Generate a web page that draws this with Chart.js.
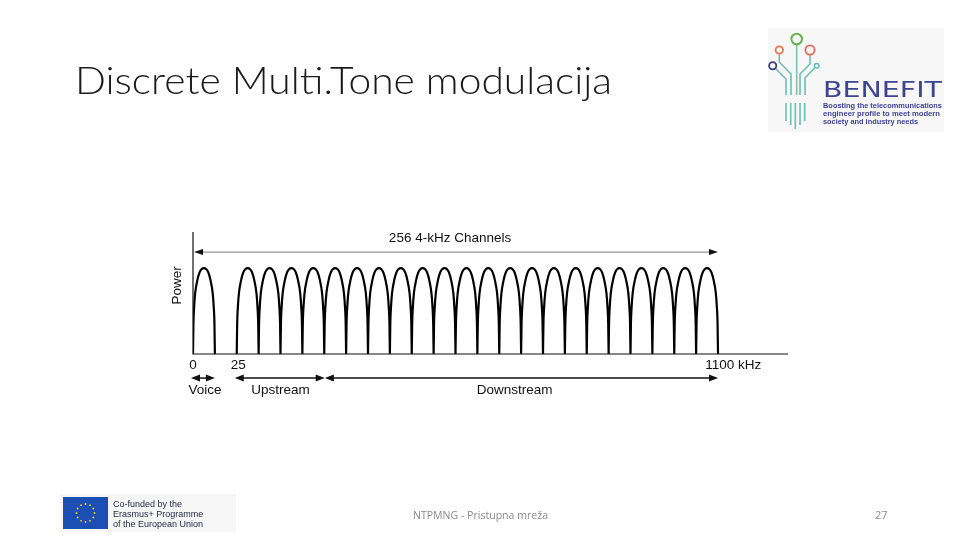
<!DOCTYPE html>
<html>
<head>
<meta charset="utf-8">
<script src="https://cdn.jsdelivr.net/npm/chart.js@4.4.1/dist/chart.umd.min.js"></script>
<style>
  html,body{margin:0;padding:0;background:#fff;}
  #wrap{position:relative;width:960px;height:540px;overflow:hidden;}
  #c{position:absolute;left:0;top:0;}
  #deco{position:absolute;left:0;top:0;pointer-events:none;}
</style>
</head>
<body>
<div id="wrap">
<canvas id="c" width="960" height="540"></canvas>
<svg id="deco" width="960" height="540" xmlns="http://www.w3.org/2000/svg">
  <text x="75" y="94" font-family="Lato, 'Open Sans', sans-serif" font-weight="300" font-size="38" fill="#1a1a1a" textLength="537" lengthAdjust="spacingAndGlyphs">Discrete Multi.Tone modulacija</text>
  <!-- BENEFIT logo -->
  <rect x="768" y="28" width="176" height="104" fill="#f7f7f7"/>
  <g fill="none" stroke-width="1.6">
    <path d="M796.7 44.5 V95" stroke="#7bc4a6"/>
    <path d="M779.3 53.7 V62 L791 74 V95" stroke="#6cc0b0"/>
    <path d="M810 54.7 V64 L800 74 V95" stroke="#6cc0b0"/>
    <path d="M775.5 68.5 L786 79 V95" stroke="#6cc0b0"/>
    <path d="M815 67.5 L805 78 V95" stroke="#6cc0b0"/>
    <circle cx="796.7" cy="39" r="5.3" stroke="#6aaf4f" stroke-width="2"/>
    <circle cx="779.3" cy="50" r="3.7" stroke="#e07a4f" stroke-width="1.8"/>
    <circle cx="810" cy="50" r="4.6" stroke="#e06a58" stroke-width="1.8"/>
    <circle cx="772.7" cy="65.7" r="3.6" stroke="#3b3f7f" stroke-width="1.8"/>
    <circle cx="816.7" cy="65.7" r="2.3" stroke="#5bbfb5" stroke-width="1.5"/>
    <path d="M786 103 V121 M790.7 103 V125 M795.3 103 V129 M800 103 V125 M804.7 103 V121" stroke="#6cc0b0"/>
  </g>
  <text x="823" y="97" font-family="'DejaVu Sans', sans-serif" font-weight="normal" font-size="22" fill="#3d4494" textLength="119" lengthAdjust="spacingAndGlyphs">BENEFIT</text>
  <g font-family="'Liberation Sans', Arial, sans-serif" font-weight="bold" font-size="7" fill="#3d4494">
    <text x="823" y="108" textLength="119" lengthAdjust="spacingAndGlyphs">Boosting the telecommunications</text>
    <text x="823" y="116" textLength="117" lengthAdjust="spacingAndGlyphs">engineer profile to meet modern</text>
    <text x="823" y="124" textLength="95" lengthAdjust="spacingAndGlyphs">society and industry needs</text>
  </g>
  <!-- EU co-funded block -->
  <rect x="60" y="494" width="176" height="38" fill="#f6f6f6"/>
  <rect x="63" y="497" width="45" height="32" fill="#1b4fb4"/>
  <g fill="#f5d90a">
    <circle cx="85.5" cy="504" r="0.9"/><circle cx="90" cy="505.2" r="0.9"/><circle cx="93.3" cy="508.5" r="0.9"/>
    <circle cx="94.5" cy="513" r="0.9"/><circle cx="93.3" cy="517.5" r="0.9"/><circle cx="90" cy="520.8" r="0.9"/>
    <circle cx="85.5" cy="522" r="0.9"/><circle cx="81" cy="520.8" r="0.9"/><circle cx="77.7" cy="517.5" r="0.9"/>
    <circle cx="76.5" cy="513" r="0.9"/><circle cx="77.7" cy="508.5" r="0.9"/><circle cx="81" cy="505.2" r="0.9"/>
  </g>
  <g font-family="'Liberation Sans', Arial, sans-serif" font-size="9" fill="#2a2a4a">
    <text x="113" y="507">Co-funded by the</text>
    <text x="113" y="517">Erasmus+ Programme</text>
    <text x="113" y="527">of the European Union</text>
  </g>
  <!-- footer -->
  <text x="413" y="519" font-family="'Open Sans', sans-serif" font-size="11" fill="#8a8a8a" textLength="135" lengthAdjust="spacingAndGlyphs">NTPMNG - Pristupna mreža</text>
  <text x="875" y="519" font-family="'Open Sans', sans-serif" font-size="11" fill="#8a8a8a">27</text>
</svg>
</div>
<script>
// ---- data (schematic channel units: 1 unit = one 4 kHz channel slot) ----
const voiceBand = [0, 1];
const channelEdges = [2, 3, 4, 5, 6, 7, 8, 9, 10, 11, 12, 13, 14, 15, 16, 17, 18, 19, 20, 21, 22, 23, 24];
// hump profile: fraction across the channel -> relative power
const humpShapeT = [0, 0.02, 0.05, 0.1, 0.2, 0.3, 0.4, 0.5, 0.6, 0.7, 0.8, 0.9, 0.95, 0.98, 1];
const humpShapeY = [0, 0.36, 0.54, 0.71, 0.86, 0.95, 0.99, 1, 0.99, 0.95, 0.86, 0.71, 0.54, 0.36, 0];
const tickValues = [0, 2.07, 24.7];
const tickLabels = ['0', '25', '1100 kHz'];
const bandLabels = ['Voice', 'Upstream', 'Downstream'];
const bandStarts = [0, 2, 6.12];
const bandEnds = [1, 6.02, 24];
const bandLabelAt = [0.55, 4, 14.7];
const channelSpan = [0, 24];
const channelLabel = '256 4-kHz Channels';
const channelLabelAt = 11.75;
const axisLabel = 'Power';
const xMax = 27.2, yMax = 1.42;

// ---- build line data from the arrays ----
function hump(a, b, out) {
  for (let i = 0; i < humpShapeT.length; i++) {
    out.push({x: a + humpShapeT[i] * (b - a), y: humpShapeY[i]});
  }
  out.push({x: b, y: null});
}
const pts = [];
hump(voiceBand[0], voiceBand[1], pts);
for (let i = 0; i < channelEdges.length - 1; i++) hump(channelEdges[i], channelEdges[i + 1], pts);

const FONT = "'Liberation Sans', Arial, sans-serif";

function arrowHead(ctx, x, y, dir, len, half) {
  ctx.beginPath();
  ctx.moveTo(x, y);
  ctx.lineTo(x - dir * len, y - half);
  ctx.lineTo(x - dir * len, y + half);
  ctx.closePath();
  ctx.fill();
}

const annot = {
  id: 'annot',
  afterDatasetsDraw(chart) {
    const ctx = chart.ctx, xs = chart.scales.x, ys = chart.scales.y;
    const px = v => xs.getPixelForValue(v), py = v => ys.getPixelForValue(v);
    ctx.save();
    // axes
    ctx.strokeStyle = '#111'; ctx.lineWidth = 1.2;
    ctx.beginPath();
    ctx.moveTo(px(0), py(yMax)); ctx.lineTo(px(0), py(0));
    ctx.lineTo(px(xMax), py(0));
    ctx.stroke();
    // channel span arrow
    const ya = py(1.186);
    ctx.strokeStyle = '#777'; ctx.lineWidth = 1;
    ctx.beginPath(); ctx.moveTo(px(channelSpan[0]) + 4, ya); ctx.lineTo(px(channelSpan[1]) - 4, ya); ctx.stroke();
    ctx.fillStyle = '#111';
    arrowHead(ctx, px(channelSpan[0]) + 1, ya, -1, 9, 3);
    arrowHead(ctx, px(channelSpan[1]), ya, 1, 9, 3);
    ctx.font = '13.5px ' + FONT; ctx.fillStyle = '#111';
    ctx.textAlign = 'center'; ctx.textBaseline = 'middle';
    ctx.fillText(channelLabel, px(channelLabelAt), py(1.35));
    // tick labels
    for (let i = 0; i < tickValues.length; i++) ctx.fillText(tickLabels[i], px(tickValues[i]), py(-0.13));
    // band arrows
    const yb = py(-0.28);
    ctx.strokeStyle = '#111'; ctx.lineWidth = 1.5;
    for (let i = 0; i < bandLabels.length; i++) {
      const a = px(bandStarts[i]), b = px(bandEnds[i]);
      ctx.beginPath(); ctx.moveTo(a + 4, yb); ctx.lineTo(b - 4, yb); ctx.stroke();
      arrowHead(ctx, a - 2, yb, -1, 9, 3.5);
      arrowHead(ctx, b, yb, 1, 9, 3.5);
      ctx.fillText(bandLabels[i], px(bandLabelAt[i]), py(-0.42));
    }
    // y axis title
    ctx.save();
    ctx.translate(px(-0.73), py(0.8));
    ctx.rotate(-Math.PI / 2);
    ctx.fillText(axisLabel, 0, 0);
    ctx.restore();
    ctx.restore();
  }
};

new Chart(document.getElementById('c'), {
  type: 'line',
  data: {datasets: [{
    data: pts,
    borderColor: '#000',
    borderWidth: 2.2,
    pointRadius: 0,
    fill: false,
    spanGaps: false,
    cubicInterpolationMode: 'monotone'
  }]},
  options: {
    responsive: false,
    animation: false,
    layout: {padding: {left: 193, right: 172, top: 232, bottom: 186}},
    plugins: {legend: {display: false}, tooltip: {enabled: false}},
    scales: {
      x: {type: 'linear', min: 0, max: xMax, display: false},
      y: {type: 'linear', min: 0, max: yMax, display: false}
    }
  },
  plugins: [annot]
});
</script>
</body>
</html>
